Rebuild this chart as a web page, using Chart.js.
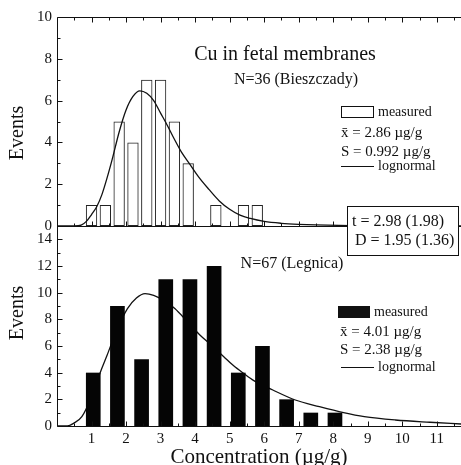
<!DOCTYPE html>
<html>
<head>
<meta charset="utf-8">
<script src="https://cdn.jsdelivr.net/npm/chart.js@4.4.1/dist/chart.umd.min.js"></script>
<style>
  html, body { margin: 0; padding: 0; background: #fff; }
  #wrap { position: relative; width: 461px; height: 465px; }
</style>
</head>
<body>
<div id="wrap"><canvas id="chart" width="461" height="465"></canvas></div>
<script>
// Bieszczady (top panel): bin centres, counts and the lognormal curve
const topBins = [1.0, 1.4, 1.8, 2.2, 2.6, 3.0, 3.4, 3.8, 4.6, 5.4, 5.8];
const topCounts = [1, 1, 5, 4, 7, 7, 5, 3, 1, 1, 1];
const topFitX = [0, 0.5, 0.7, 0.85, 1.0, 1.15, 1.3, 1.45, 1.6, 1.8, 2.0, 2.2, 2.4, 2.6, 2.8, 3.0, 3.2, 3.4, 3.6, 3.85, 4.1, 4.4, 4.7, 5.0, 5.3, 5.6, 6.0, 6.5, 7.0, 7.5, 8.5, 10, 11.7];
const topFitY = [0, 0, 0.04, 0.22, 0.55, 0.92, 1.5, 2.3, 3.2, 4.5, 5.55, 6.2, 6.47, 6.35, 6.0, 5.4, 4.8, 4.15, 3.55, 2.95, 2.35, 1.75, 1.2, 0.8, 0.52, 0.36, 0.22, 0.13, 0.08, 0.05, 0.02, 0, 0];

// Legnica (bottom panel)
const botBins = [1.05, 1.75, 2.45, 3.15, 3.85, 4.55, 5.25, 5.95, 6.65, 7.35, 8.05];
const botCounts = [4, 9, 5, 11, 11, 12, 4, 6, 2, 1, 1];
const botFitX = [0, 0.3, 0.48, 0.72, 1.0, 1.25, 1.45, 1.7, 2.04, 2.3, 2.55, 2.8, 3.1, 3.42, 3.75, 4.13, 4.5, 4.83, 5.1, 5.4, 5.7, 6.25, 6.9, 7.6, 8.3, 8.9, 9.8, 10.8, 11.7];
const botFitY = [0, 0, 0.2, 0.7, 2.2, 4.0, 5.3, 7.0, 8.8, 9.6, 9.93, 9.8, 9.4, 8.8, 7.9, 6.85, 6.0, 5.2, 4.55, 3.95, 3.4, 2.7, 1.95, 1.45, 1.0, 0.7, 0.45, 0.28, 0.15];

// tick labels
const xLabels = [1, 2, 3, 4, 5, 6, 7, 8, 9, 10, 11];
const topYLabels = [0, 2, 4, 6, 8, 10];
const botYLabels = [0, 2, 4, 6, 8, 10, 12, 14];

const INK = "#111";
const SERIF = '"Liberation Serif", "Times New Roman", serif';
Chart.defaults.font.family = SERIF;
Chart.defaults.color = INK;

function pts(xs, ys) {
  return xs.map(function (x, i) { return { x: x, y: ys[i] }; });
}

// frame lines and inward tick marks, taken from the scales
const framePlugin = {
  id: "frame",
  afterDatasetsDraw: function (chart) {
    const ctx = chart.ctx, ca = chart.chartArea, s = chart.scales;
    const yMid = Math.round(s.yTop.bottom) + 0.5;
    const yBottom = Math.round(s.yBot.bottom) + 0.5;
    const yTopEdge = Math.round(s.yTop.top) + 0.5;
    const xLeft = Math.round(ca.left) + 0.5;
    ctx.save();
    ctx.strokeStyle = INK;
    ctx.lineWidth = 1;
    ctx.beginPath();
    ctx.moveTo(xLeft, yTopEdge); ctx.lineTo(ca.right, yTopEdge);
    ctx.moveTo(xLeft, yMid); ctx.lineTo(ca.right, yMid);
    ctx.moveTo(xLeft, yBottom); ctx.lineTo(ca.right, yBottom);
    ctx.moveTo(xLeft, yTopEdge); ctx.lineTo(xLeft, yBottom);

    s.x.ticks.forEach(function (t) {
      if (t.value <= 0) return;
      const px = Math.round(s.x.getPixelForValue(t.value)) + 0.5;
      const len = Number.isInteger(t.value) ? 5 : 3;
      ctx.moveTo(px, yTopEdge); ctx.lineTo(px, yTopEdge + len);
      ctx.moveTo(px, yMid); ctx.lineTo(px, yMid - len);
      ctx.moveTo(px, yBottom); ctx.lineTo(px, yBottom - len);
    });
    [s.yTop, s.yBot].forEach(function (sc) {
      sc.ticks.forEach(function (t) {
        const py = Math.round(sc.getPixelForValue(t.value)) + 0.5;
        const len = t.value % 2 === 0 ? 5 : 3;
        ctx.moveTo(xLeft, py); ctx.lineTo(xLeft + len, py);
      });
    });
    ctx.stroke();
    ctx.restore();
  }
};

// in-plot texts, legends and the test box
const notesPlugin = {
  id: "notes",
  afterDraw: function (chart) {
    const ctx = chart.ctx;
    function txt(s, x, y, size, align) {
      ctx.font = size + "px " + SERIF;
      ctx.textAlign = align || "left";
      ctx.textBaseline = "middle";
      ctx.fillText(s, x, y);
    }
    ctx.save();
    ctx.fillStyle = INK;
    ctx.strokeStyle = INK;
    ctx.lineWidth = 1;

    txt("Cu in fetal membranes", 285, 55, 20, "center");
    txt("N=36 (Bieszczady)", 296, 80, 16, "center");
    txt("N=67 (Legnica)", 292, 264, 16, "center");

    // top legend
    ctx.fillStyle = "#fff";
    ctx.fillRect(341, 106, 33, 12);
    ctx.strokeRect(341.5, 106.5, 32, 11);
    ctx.fillStyle = INK;
    txt("measured", 378, 112, 14);
    txt("x\u0304 = 2.86 \u00b5g/g", 341, 133, 15);
    txt("S = 0.992 \u00b5g/g", 341, 152, 15);
    ctx.beginPath(); ctx.moveTo(341, 166.5); ctx.lineTo(374, 166.5); ctx.stroke();
    txt("lognormal", 378, 166, 14);

    // bottom legend
    ctx.fillRect(338, 306, 32, 12);
    txt("measured", 374, 312, 14);
    txt("x\u0304 = 4.01 \u00b5g/g", 340, 332, 15);
    txt("S = 2.38 \u00b5g/g", 340, 350, 15);
    ctx.beginPath(); ctx.moveTo(341, 367.5); ctx.lineTo(374, 367.5); ctx.stroke();
    txt("lognormal", 378, 367, 14);

    // test statistics box
    ctx.fillStyle = "#fff";
    ctx.fillRect(347, 206, 112, 50);
    ctx.strokeRect(347.5, 206.5, 111, 49);
    ctx.fillStyle = INK;
    txt("t = 2.98 (1.98)", 352, 222, 16);
    txt("D = 1.95 (1.36)", 355, 241, 16);

    // axis titles
    [[18, 133], [18, 313]].forEach(function (p) {
      ctx.save();
      ctx.translate(p[0], p[1]);
      ctx.rotate(-Math.PI / 2);
      txt("Events", 0, 0, 20, "center");
      ctx.restore();
    });
    ctx.restore();
  }
};

const yCommon = {
  type: "linear",
  position: "left",
  stack: "panels",
  grid: { display: false, drawTicks: false },
  border: { display: false },
  afterFit: function (s) { s.width = 57; }
};

new Chart(document.getElementById("chart"), {
  type: "bar",
  data: {
    datasets: [
      {
        type: "bar",
        data: pts(topBins, topCounts),
        xAxisID: "xTop",
        yAxisID: "yTop",
        backgroundColor: "rgba(255,255,255,0)",
        borderColor: "#222",
        borderWidth: 1,
        borderSkipped: false,
        grouped: false,
        barPercentage: 0.82,
        categoryPercentage: 1,
        order: 4
      },
      {
        type: "line",
        data: pts(topFitX, topFitY),
        xAxisID: "xTop",
        yAxisID: "yTop",
        borderColor: INK,
        borderWidth: 1.3,
        pointRadius: 0,
        fill: false,
        cubicInterpolationMode: "monotone",
        order: 3
      },
      {
        type: "line",
        data: pts(botFitX, botFitY),
        xAxisID: "x",
        yAxisID: "yBot",
        borderColor: INK,
        borderWidth: 1.3,
        pointRadius: 0,
        fill: false,
        cubicInterpolationMode: "monotone",
        order: 2
      },
      {
        type: "bar",
        data: pts(botBins, botCounts),
        xAxisID: "x",
        yAxisID: "yBot",
        backgroundColor: "#050505",
        borderWidth: 0,
        grouped: false,
        barPercentage: 0.85,
        categoryPercentage: 1,
        order: 1
      }
    ]
  },
  options: {
    responsive: false,
    animation: false,
    devicePixelRatio: 1,
    layout: { padding: { top: 17, right: 0, bottom: 0, left: 0 } },
    plugins: { legend: { display: false }, tooltip: { enabled: false } },
    scales: {
      x: {
        type: "linear",
        position: "bottom",
        min: 0,
        max: 11.7,
        offset: false,
        grid: { display: false, drawTicks: false },
        border: { display: false },
        ticks: {
          stepSize: 0.5,
          autoSkip: false,
          maxRotation: 0,
          includeBounds: false,
          padding: 4,
          font: { size: 15 },
          callback: function (v) { return xLabels.indexOf(v) >= 0 ? String(v) : ""; }
        },
        title: {
          display: true,
          text: "Concentration (\u00b5g/g)",
          font: { size: 21, lineHeight: 0.75 },
          padding: { top: 0, bottom: 0 }
        },
        afterFit: function (s) { s.height = 39; }
      },
      xTop: {
        type: "linear",
        position: "top",
        display: false,
        min: 0,
        max: 11.7,
        offset: false,
        ticks: { stepSize: 0.5, includeBounds: false }
      },
      yBot: Object.assign({}, yCommon, {
        stackWeight: 200,
        min: 0,
        max: 15,
        ticks: {
          stepSize: 1,
          autoSkip: false,
          includeBounds: false,
          padding: 5,
          font: { size: 15 },
          callback: function (v) { return botYLabels.indexOf(v) >= 0 ? String(v) : ""; }
        }
      }),
      yTop: Object.assign({}, yCommon, {
        stackWeight: 209,
        min: 0,
        max: 10,
        ticks: {
          stepSize: 1,
          autoSkip: false,
          includeBounds: false,
          padding: 5,
          font: { size: 15 },
          callback: function (v) { return topYLabels.indexOf(v) >= 0 ? String(v) : ""; }
        }
      })
    }
  },
  plugins: [framePlugin, notesPlugin]
});
</script>
</body>
</html>
